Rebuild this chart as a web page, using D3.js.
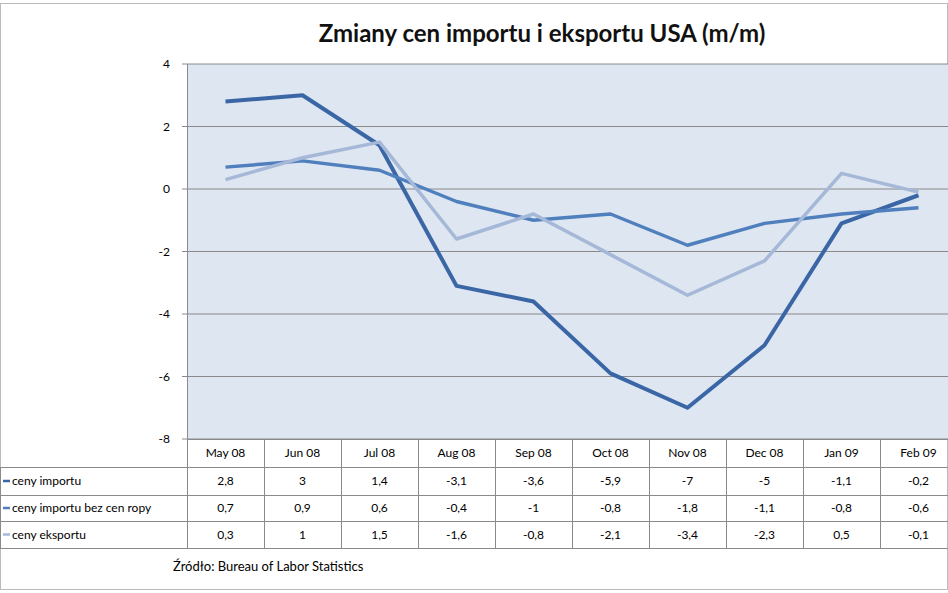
<!DOCTYPE html>
<html><head><meta charset="utf-8">
<script src="https://cdn.jsdelivr.net/npm/d3@7"></script>
<style>body{margin:0;background:#fff}svg{font-family:Lato,"Liberation Sans",Arial,sans-serif}</style>
</head><body><svg id="c" width="948" height="593"></svg>
<script>
const categories=["May 08","Jun 08","Jul 08","Aug 08","Sep 08","Oct 08","Nov 08","Dec 08","Jan 09","Feb 09"];
const cenyImportu=[2.8,3,1.4,-3.1,-3.6,-5.9,-7,-5,-1.1,-0.2];
const cenyBezRopy=[0.7,0.9,0.6,-0.4,-1,-0.8,-1.8,-1.1,-0.8,-0.6];
const cenyEksportu=[0.3,1,1.5,-1.6,-0.8,-2.1,-3.4,-2.3,0.5,-0.1];
const yTicks=[-8,-6,-4,-2,0,2,4];
const series=[
 {name:"ceny importu",values:cenyImportu,color:"#3a66a6",w:4},
 {name:"ceny importu bez cen ropy",values:cenyBezRopy,color:"#4f7fbd",w:3.5},
 {name:"ceny eksportu",values:cenyEksportu,color:"#a5b8d8",w:3.5}];
const fmt=v=>String(v).replace(".",",");
const svg=d3.select("#c");
svg.append("rect").attr("x",0.5).attr("y",3.5).attr("width",947).attr("height",586).attr("fill","none").attr("stroke","#bbb");
const x=d3.scaleBand().domain(categories).range([187,957]);
const y=d3.scaleLinear().domain([-8,4]).range([439,64]);
svg.append("rect").attr("x",187).attr("y",64).attr("width",770).attr("height",375).attr("fill","#dde6f1");
svg.selectAll(".g").data(yTicks).join("line").attr("x1",187).attr("x2",948).attr("y1",d=>y(d)).attr("y2",d=>y(d)).attr("stroke","#8a8a8a").attr("stroke-width",1);
svg.append("line").attr("x1",187.5).attr("x2",187.5).attr("y1",64).attr("y2",439).attr("stroke","#8a8a8a");
svg.selectAll(".yt").data(yTicks).join("text").attr("x",170).attr("y",d=>y(d)+4).attr("text-anchor","end").attr("font-size",12).text(d=>d);
svg.selectAll(".yk").data(yTicks).join("line").attr("x1",182).attr("x2",187).attr("y1",d=>y(d)).attr("y2",d=>y(d)).attr("stroke","#8a8a8a");
const line=d3.line().x((d,i)=>x(categories[i])+x.bandwidth()/2).y(d=>y(d));
series.forEach(s=>svg.append("path").attr("d",line(s.values)).attr("fill","none").attr("stroke",s.color).attr("stroke-width",s.w).attr("stroke-linejoin","round"));
svg.append("text").attr("x",542).attr("y",42).attr("text-anchor","middle").attr("font-size",24).attr("font-weight","bold").attr("fill","#111").text("Zmiany cen importu i eksportu USA (m/m)");
const rows=[439,467,495,521,548];
rows.forEach((r,i)=>svg.append("line").attr("x1",i==0?187:0).attr("x2",948).attr("y1",r+0.5).attr("y2",r+0.5).attr("stroke","#8a8a8a"));
categories.forEach(c=>svg.append("line").attr("x1",x(c)+0.5).attr("x2",x(c)+0.5).attr("y1",439).attr("y2",548).attr("stroke","#8a8a8a"));
svg.append("line").attr("x1",0.5).attr("x2",0.5).attr("y1",467).attr("y2",548).attr("stroke","#8a8a8a");
svg.selectAll(".cat").data(categories).join("text").attr("x",d=>x(d)+x.bandwidth()/2).attr("y",457).attr("text-anchor","middle").attr("font-size",12).text(d=>d);
series.forEach((s,si)=>{
 const cy=(rows[si+1]+rows[si+2])/2;
 svg.append("line").attr("x1",3).attr("x2",10).attr("y1",cy).attr("y2",cy).attr("stroke",s.color).attr("stroke-width",2.5);
 svg.append("text").attr("x",12).attr("y",cy+4).attr("font-size",12).text(s.name);
 svg.selectAll(null).data(s.values).join("text").attr("x",(d,i)=>x(categories[i])+x.bandwidth()/2).attr("y",cy+4).attr("text-anchor","middle").attr("font-size",12).text(fmt);
});
svg.append("text").attr("x",173).attr("y",571).attr("font-size",13).text("Źródło:  Bureau of Labor Statistics");
</script></body></html>
